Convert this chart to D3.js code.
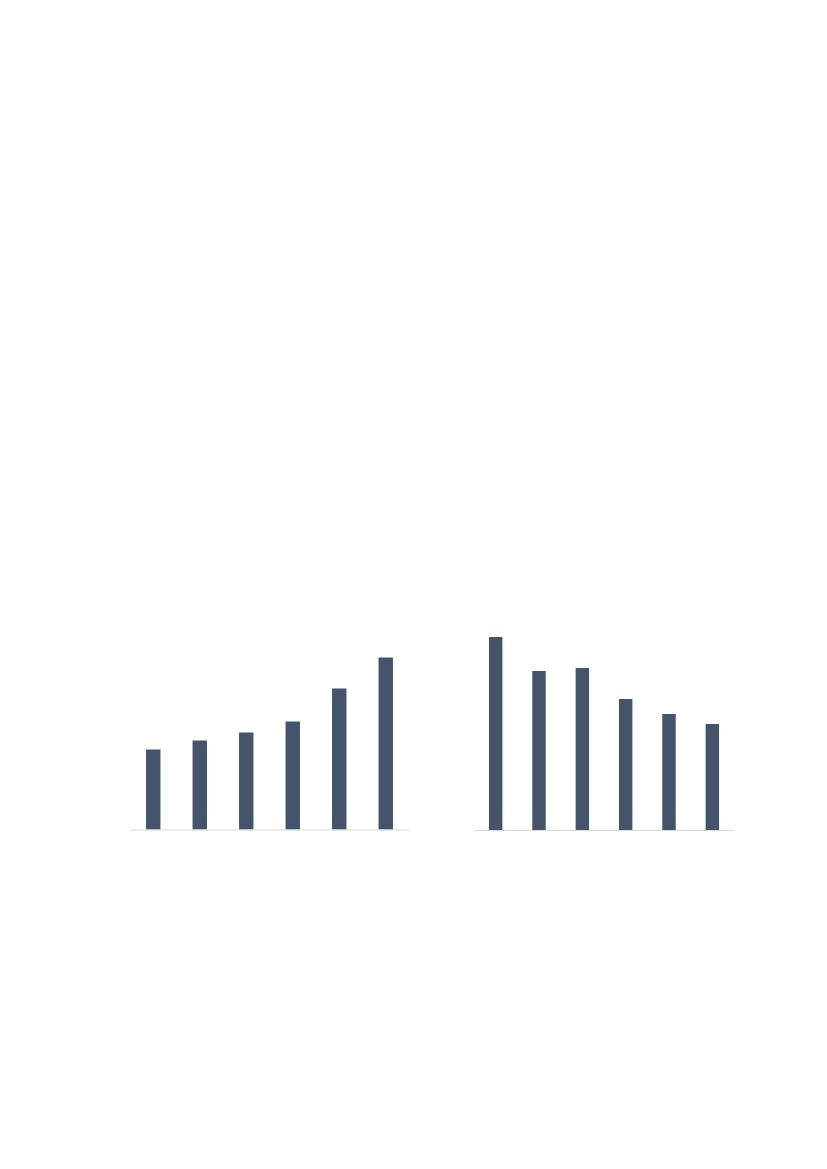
<!DOCTYPE html>
<html>
<head>
<meta charset="utf-8">
<script src="https://cdn.jsdelivr.net/npm/d3@7"></script>
<style>
  html, body { margin: 0; padding: 0; background: #fff; }
  svg { display: block; }
</style>
</head>
<body>
<div id="app"></div>
<script>
// values (no labels shown in the original)
const leftCategories = ['1', '2', '3', '4', '5', '6'];
const leftValues = [80, 89, 97, 108, 141, 172];

const rightCategories = ['1', '2', '3', '4', '5', '6'];
const rightValues = [193, 159, 162, 131, 116, 106];

const W = 827, H = 1169;
const barColor = '#44546a';
const axisColor = '#d9d9d9';

const svg = d3.select('#app')
  .append('svg')
  .attr('width', W)
  .attr('height', H);

// shared value scale: 0..200 -> 200px tall
const drawChart = (cats, vals, x0, x1, baseY) => {
  const xScale = d3.scaleBand()
    .domain(cats)
    .range([x0, x1])
    .paddingInner(0.69)
    .paddingOuter(0.345);

  const yScale = d3.scaleLinear()
    .domain([0, 200])
    .range([baseY, baseY - 200]);

  const g = svg.append('g');

  g.selectAll('rect')
    .data(vals)
    .enter()
    .append('rect')
    .attr('x', (d, i) => xScale(cats[i]))
    .attr('y', d => yScale(d))
    .attr('width', xScale.bandwidth())
    .attr('height', d => yScale(0) - yScale(d))
    .style('fill', barColor);

  const axis = d3.axisBottom(xScale).tickSize(0).tickFormat('');
  g.append('g')
    .attr('transform', `translate(0,${yScale(0)})`)
    .call(axis)
    .call(a => a.select('.domain').attr('stroke', axisColor).attr('stroke-width', 1));
};

drawChart(leftCategories, leftValues, 130, 409, 829.5);
drawChart(rightCategories, rightValues, 474, 734, 830);
</script>
</body>
</html>
